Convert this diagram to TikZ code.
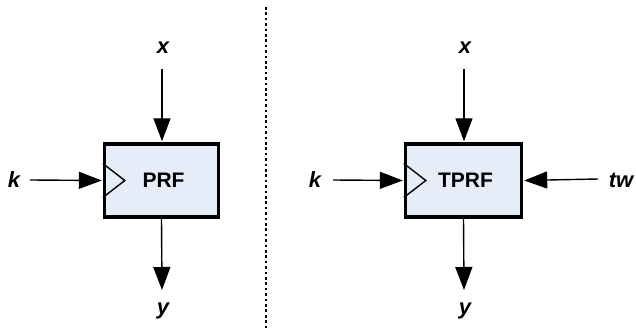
\documentclass[tikz,border=0pt]{standalone}
\usepackage{fontspec}
\setmainfont{Liberation Sans}
\usetikzlibrary{arrows.meta}
\definecolor{boxfill}{RGB}{230,236,248}
\tikzset{
  x=1pt, y=-1pt,
  blockbox/.style={draw=black, line width=3.4pt, fill=boxfill, minimum width=114pt, minimum height=73pt, inner sep=0pt, font=\fontsize{21}{24}\selectfont\bfseries},
  sig/.style={font=\fontsize{22}{25}\selectfont\bfseries\itshape, inner sep=1pt},
  wire/.style={line width=1.4pt, -{Triangle[length=23pt, width=17pt]}, shorten >=1pt},
  clk/.style={line width=1.4pt, line join=miter},
}
\begin{document}
\begin{tikzpicture}
\useasboundingbox (0,0) rectangle (636,328);

% separator
\draw[line width=1.5pt, dash pattern=on 2.7pt off 2.7pt] (266,7) -- (266,328);

% PRF block
\node[blockbox] (prf) at (161.5,180.5) {\hspace*{4pt}PRF};
\draw[clk] ([yshift=-17pt]prf.west) -- ([xshift=22pt]prf.west) -- ([yshift=17pt]prf.west);
\node[sig] (x1) at (163,48) {x};
\node[sig] (k1) at (14,180) {k};
\node[sig] (y1) at (163,311) {y};
\coordinate (x1s) at (162,69);
\coordinate (k1s) at (30,180);
\coordinate (y1e) at (162,291);
\draw[wire] (x1s) -- (x1s |- prf.north);
\draw[wire] (k1s) -- (prf.west);
\draw[wire] (prf.south) -- (y1e);

% TPRF block
\node[blockbox, minimum width=116pt] (tprf) at (463.5,180.5) {\hspace*{4pt}TPRF};
\draw[clk] ([yshift=-17pt]tprf.west) -- ([xshift=22pt]tprf.west) -- ([yshift=17pt]tprf.west);
\node[sig] (x2) at (465,48) {x};
\node[sig] (k2) at (315,180) {k};
\node[sig] (y2) at (465,311) {y};
\node[sig] (tw) at (621,180) {tw};
\coordinate (x2s) at (464,69);
\coordinate (k2s) at (333,180);
\coordinate (tws) at (598,179);
\coordinate (y2e) at (464,291);
\draw[wire] (x2s) -- (x2s |- tprf.north);
\draw[wire] (k2s) -- (tprf.west);
\draw[wire] (tws) -- (tprf.east);
\draw[wire] (tprf.south) -- (y2e);
\end{tikzpicture}
\end{document}
